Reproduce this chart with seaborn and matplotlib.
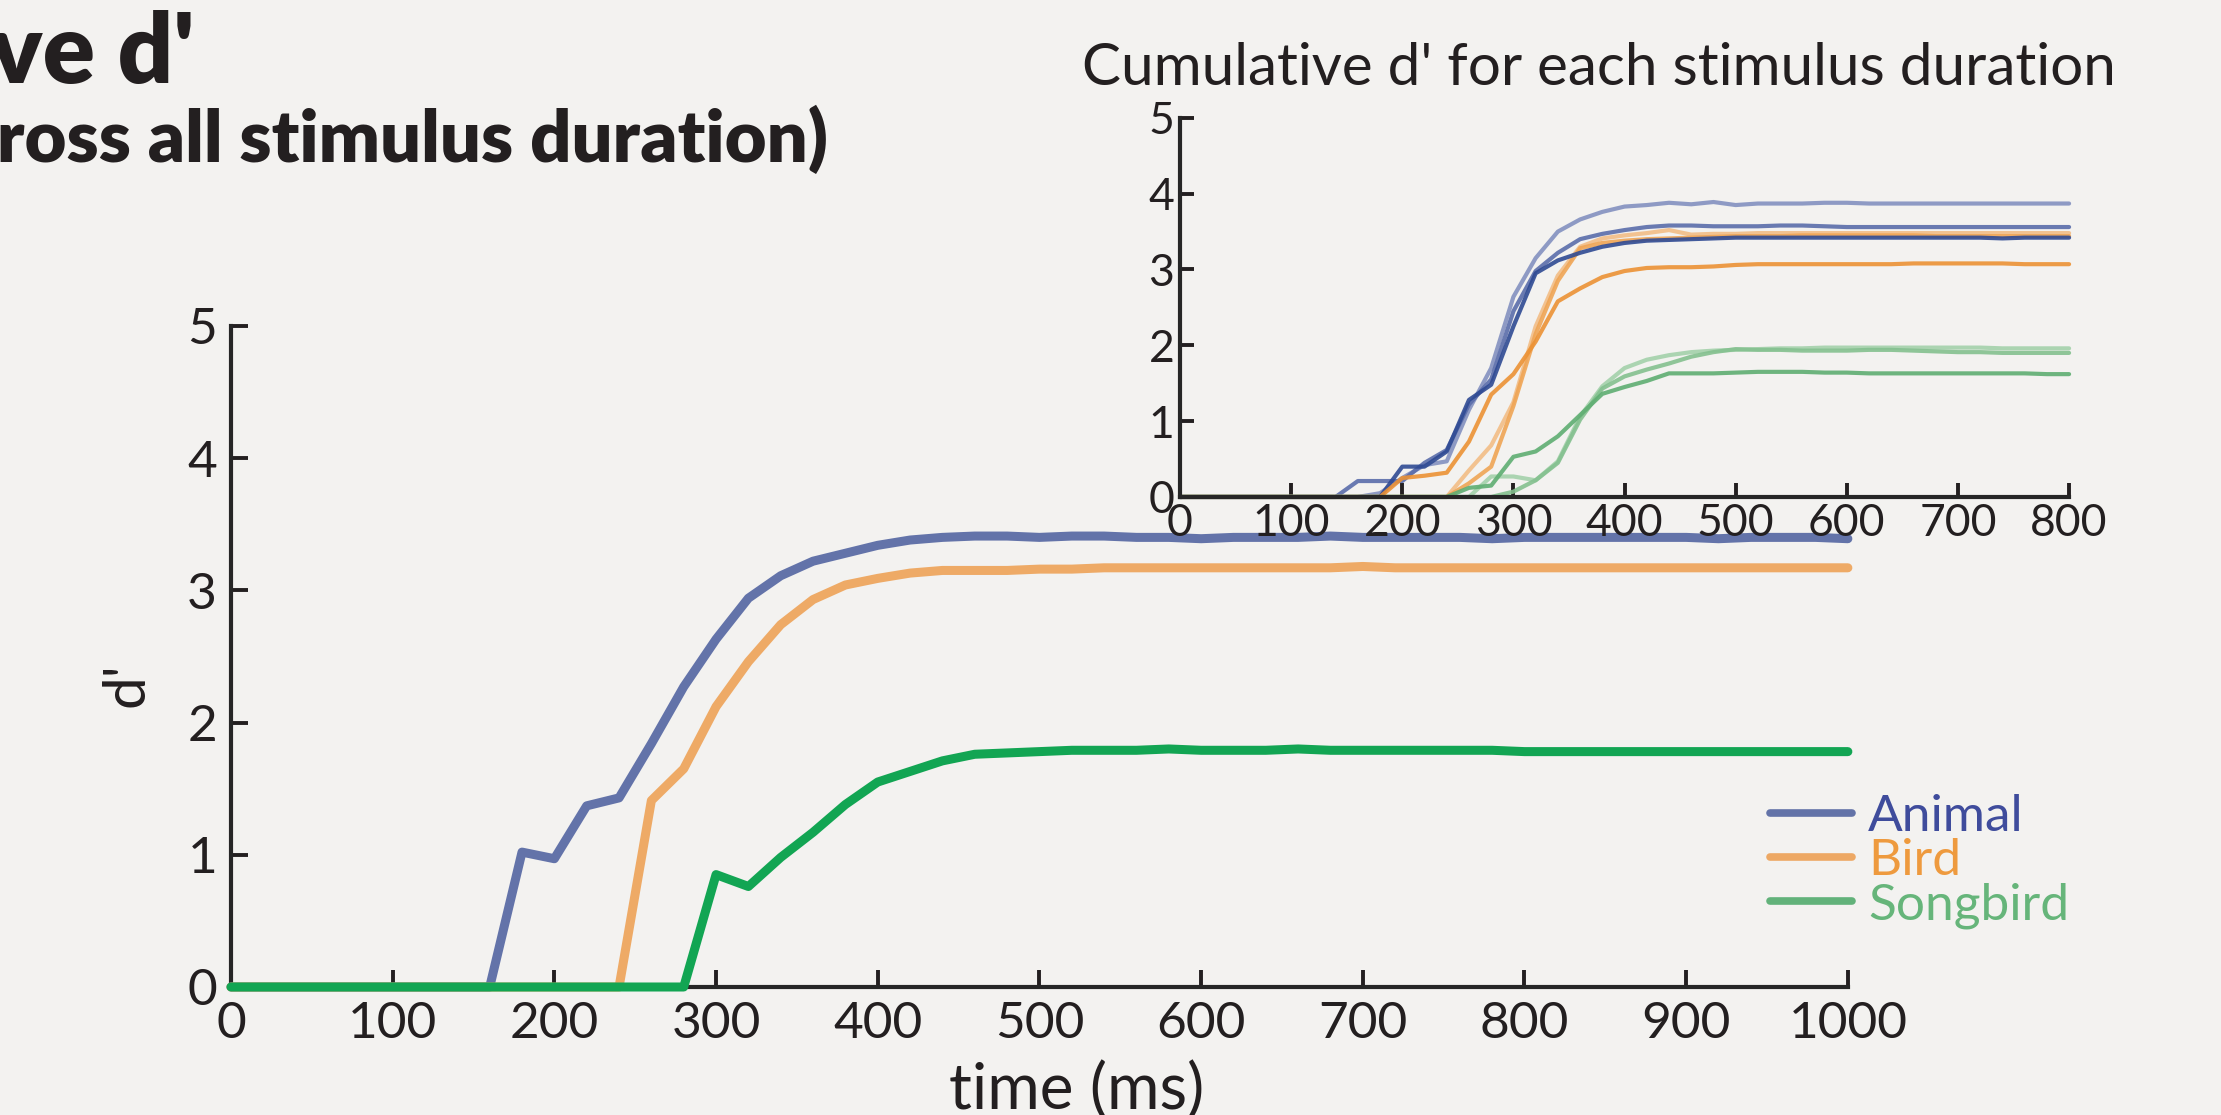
import pandas as pd
import matplotlib.pyplot as plt
import seaborn as sns

# --- dados: curva principal (média de todas as durações), passo de 20 ms ---
time_main = list(range(0, 1001, 20))
animal_main = [0, 0, 0, 0, 0, 0, 0, 0, 0,
               1.02, 0.97, 1.37, 1.43, 1.84, 2.27, 2.63, 2.94, 3.11, 3.22, 3.28, 3.34, 3.38,
               3.40, 3.41, 3.41, 3.40, 3.41, 3.41, 3.40, 3.40, 3.39, 3.40, 3.40, 3.40, 3.41,
               3.40, 3.40, 3.40, 3.40, 3.39, 3.40, 3.40, 3.40, 3.40, 3.40, 3.40, 3.39, 3.40,
               3.40, 3.40, 3.39]
bird_main = [0, 0, 0, 0, 0, 0, 0, 0, 0, 0, 0, 0, 0,
             1.41, 1.65, 2.12, 2.46, 2.74, 2.93, 3.04, 3.09, 3.13, 3.15, 3.15, 3.15, 3.16,
             3.16, 3.17, 3.17, 3.17, 3.17, 3.17, 3.17, 3.17, 3.17, 3.18, 3.17, 3.17, 3.17,
             3.17, 3.17, 3.17, 3.17, 3.17, 3.17, 3.17, 3.17, 3.17, 3.17, 3.17, 3.17]
songbird_main = [0, 0, 0, 0, 0, 0, 0, 0, 0, 0, 0, 0, 0, 0, 0,
                 0.85, 0.76, 0.98, 1.17, 1.38, 1.55, 1.63, 1.71, 1.76, 1.77, 1.78, 1.79,
                 1.79, 1.79, 1.80, 1.79, 1.79, 1.79, 1.80, 1.79, 1.79, 1.79, 1.79, 1.79,
                 1.79, 1.78, 1.78, 1.78, 1.78, 1.78, 1.78, 1.78, 1.78, 1.78, 1.78, 1.78]

# --- dados: inset (cada duração de estímulo), passo de 20 ms ---
time_inset = list(range(0, 801, 20))
animal_light = [0, 0, 0, 0, 0, 0, 0, 0, 0,
                0.05, 0.25, 0.42, 0.47, 1.15, 1.70, 2.64, 3.15, 3.50, 3.66, 3.76, 3.83, 3.85,
                3.88, 3.86, 3.89, 3.85, 3.87, 3.87, 3.87, 3.88, 3.88, 3.87,
                3.87, 3.87, 3.87, 3.87, 3.87, 3.87, 3.87, 3.87, 3.87]
animal_mid = [0, 0, 0, 0, 0, 0, 0, 0,
              0.21, 0.21, 0.21, 0.45, 0.62, 1.22, 1.55, 2.45, 2.98, 3.22, 3.40, 3.47, 3.52,
              3.56, 3.58, 3.58, 3.57, 3.57, 3.57, 3.58, 3.58, 3.57, 3.56,
              3.56, 3.56, 3.56, 3.56, 3.56, 3.56, 3.56, 3.56, 3.56, 3.56]
animal_dark = [0, 0, 0, 0, 0, 0, 0, 0, 0, 0,
               0.40, 0.40, 0.60, 1.28, 1.48, 2.25, 2.95, 3.12, 3.22, 3.30, 3.35, 3.38, 3.39,
               3.40, 3.41, 3.42,
               3.42, 3.42, 3.42, 3.42, 3.42, 3.42, 3.42, 3.42, 3.42, 3.42, 3.42, 3.41, 3.42,
               3.42, 3.42]
bird_light = [0, 0, 0, 0, 0, 0, 0, 0, 0, 0, 0, 0, 0,
              0.35, 0.68, 1.25, 2.25, 2.92, 3.30, 3.41, 3.45, 3.48, 3.52, 3.46, 3.47, 3.47,
              3.48, 3.48, 3.48, 3.48, 3.48, 3.48, 3.48, 3.48, 3.48, 3.48, 3.48, 3.48, 3.48,
              3.48, 3.48]
bird_mid = [0, 0, 0, 0, 0, 0, 0, 0, 0, 0, 0, 0, 0,
            0.18, 0.40, 1.20, 2.15, 2.85, 3.28, 3.35, 3.38, 3.40, 3.41, 3.42, 3.43, 3.44,
            3.44, 3.44, 3.45, 3.45, 3.45, 3.45, 3.45, 3.45, 3.44, 3.44, 3.44, 3.44, 3.44,
            3.44, 3.44]
bird_dark = [0, 0, 0, 0, 0, 0, 0, 0, 0, 0,
             0.25, 0.28, 0.32, 0.73, 1.35, 1.62, 2.05, 2.58, 2.75, 2.90, 2.98, 3.02, 3.03,
             3.03, 3.04, 3.06, 3.07,
             3.07, 3.07, 3.07, 3.07, 3.07, 3.07, 3.08, 3.08, 3.08, 3.08, 3.08, 3.07, 3.07,
             3.07]
songbird_light = [0, 0, 0, 0, 0, 0, 0, 0, 0, 0, 0, 0, 0, 0,
                  0.27, 0.27, 0.22, 0.47, 1.06, 1.46, 1.70, 1.81, 1.87, 1.91, 1.93, 1.94,
                  1.95, 1.96, 1.96, 1.97, 1.97, 1.97, 1.97, 1.97, 1.97, 1.97, 1.97, 1.96,
                  1.96, 1.96, 1.96]
songbird_mid = [0, 0, 0, 0, 0, 0, 0, 0, 0, 0, 0, 0, 0, 0, 0,
                0.07, 0.22, 0.45, 1.02, 1.43, 1.59, 1.68, 1.76, 1.85, 1.91, 1.95,
                1.94, 1.94, 1.93, 1.93, 1.93, 1.94, 1.94, 1.93, 1.92, 1.91, 1.91, 1.90,
                1.90, 1.90, 1.90]
songbird_dark = [0, 0, 0, 0, 0, 0, 0, 0, 0, 0, 0, 0, 0,
                 0.12, 0.15, 0.53, 0.60, 0.80, 1.08, 1.36, 1.45, 1.53, 1.63, 1.63, 1.63,
                 1.64, 1.65, 1.65, 1.65, 1.64, 1.64, 1.63,
                 1.63, 1.63, 1.63, 1.63, 1.63, 1.63, 1.63, 1.62, 1.62]

BG = "#f3f2f0"
INK = "#231f20"

# estilo
sns.set_style("ticks")
plt.rcParams["font.family"] = ["Lato", "DejaVu Sans"]
plt.rcParams["axes.linewidth"] = 3
plt.rcParams["text.color"] = INK
plt.rcParams["axes.labelcolor"] = INK
plt.rcParams["xtick.color"] = INK
plt.rcParams["ytick.color"] = INK

df_main = pd.DataFrame({
    "time": time_main * 3,
    "dprime": animal_main + bird_main + songbird_main,
    "categoria": ["Animal"] * len(time_main) + ["Bird"] * len(time_main) + ["Songbird"] * len(time_main),
})

inset_series = {
    "animal_light": animal_light, "animal_mid": animal_mid,
    "bird_light": bird_light, "bird_mid": bird_mid,
    "songbird_light": songbird_light, "songbird_mid": songbird_mid,
    "animal_dark": animal_dark, "bird_dark": bird_dark, "songbird_dark": songbird_dark,
}
inset_palette = {
    "animal_light": "#8391c0", "animal_mid": "#5a6dab", "animal_dark": "#2f4a93",
    "bird_light": "#f2bd86", "bird_mid": "#efa555", "bird_dark": "#ec9234",
    "songbird_light": "#a4d1ab", "songbird_mid": "#84c08f", "songbird_dark": "#5fae72",
}
df_inset = pd.concat(
    [pd.DataFrame({"time": time_inset, "dprime": v, "serie": k}) for k, v in inset_series.items()],
    ignore_index=True,
)

fig = plt.figure(figsize=(22.21, 11.15), dpi=100, facecolor=BG)

# gráfico principal
ax = fig.add_axes([0.104, 0.1148, 0.728, 0.593])
ax.set_facecolor(BG)
sns.lineplot(data=df_main, x="time", y="dprime", hue="categoria",
             palette={"Animal": "#6373a9", "Bird": "#eeaa66", "Songbird": "#12a553"},
             linewidth=6.5, ax=ax, clip_on=False, zorder=3)
ax.set_xlim(0, 1000)
ax.set_ylim(0, 5)
ax.set_xticks(range(0, 1001, 100))
ax.set_yticks(range(0, 6))
sns.despine(ax=ax)
ax.tick_params(direction="in", length=12, width=2.8, labelsize=37, pad=10)
ax.set_xlabel("time (ms)", fontsize=46)
ax.xaxis.set_label_coords(0.523, -0.113)
ax.set_ylabel("d'", fontsize=42)
ax.yaxis.set_label_coords(-0.048, 0.457)

handles, labels = ax.get_legend_handles_labels()
leg = ax.legend(handles, labels, loc="center left", bbox_to_anchor=(0.952, 0.19),
                frameon=False, fontsize=37, handlelength=1.6, handletextpad=0.3,
                labelspacing=-0.04, borderpad=0, borderaxespad=0)
for line in leg.get_lines():
    line.set_linewidth(5.5)
legend_text_colors = ["#3f4c9c", "#ee9a3e", "#66b57a"]
for txt, c in zip(leg.get_texts(), legend_text_colors):
    txt.set_color(c)
legend_line_colors = ["#6373a8", "#eda864", "#62b27a"]
for line, c in zip(leg.get_lines(), legend_line_colors):
    line.set_color(c)

# inset
ax2 = fig.add_axes([0.5313, 0.5543, 0.4003, 0.340])
ax2.set_facecolor("none")
sns.lineplot(data=df_inset, x="time", y="dprime", hue="serie", palette=inset_palette,
             linewidth=3, alpha=0.9, legend=False, ax=ax2, clip_on=False)
ax2.set_xlim(0, 800)
ax2.set_ylim(0, 5)
ax2.set_xticks(range(0, 801, 100))
ax2.set_yticks(range(0, 6))
sns.despine(ax=ax2)
ax2.tick_params(direction="in", length=10, width=2.8, labelsize=32, pad=4)
ax2.set_xlabel("")
ax2.set_ylabel("")
ax2.set_title("Cumulative d' for each stimulus duration", fontsize=42, pad=24, x=0.471)

# títulos principais (cortados na borda esquerda, como no original)
fig.text(0.0875, 0.926, "Cumulative d'", fontsize=70, fontweight="heavy", ha="right", va="baseline")
fig.text(0.373, 0.855, "(across all stimulus duration)", fontsize=52, fontweight="heavy",
         ha="right", va="baseline")

fig.savefig("out.png", dpi=100, facecolor=BG)
